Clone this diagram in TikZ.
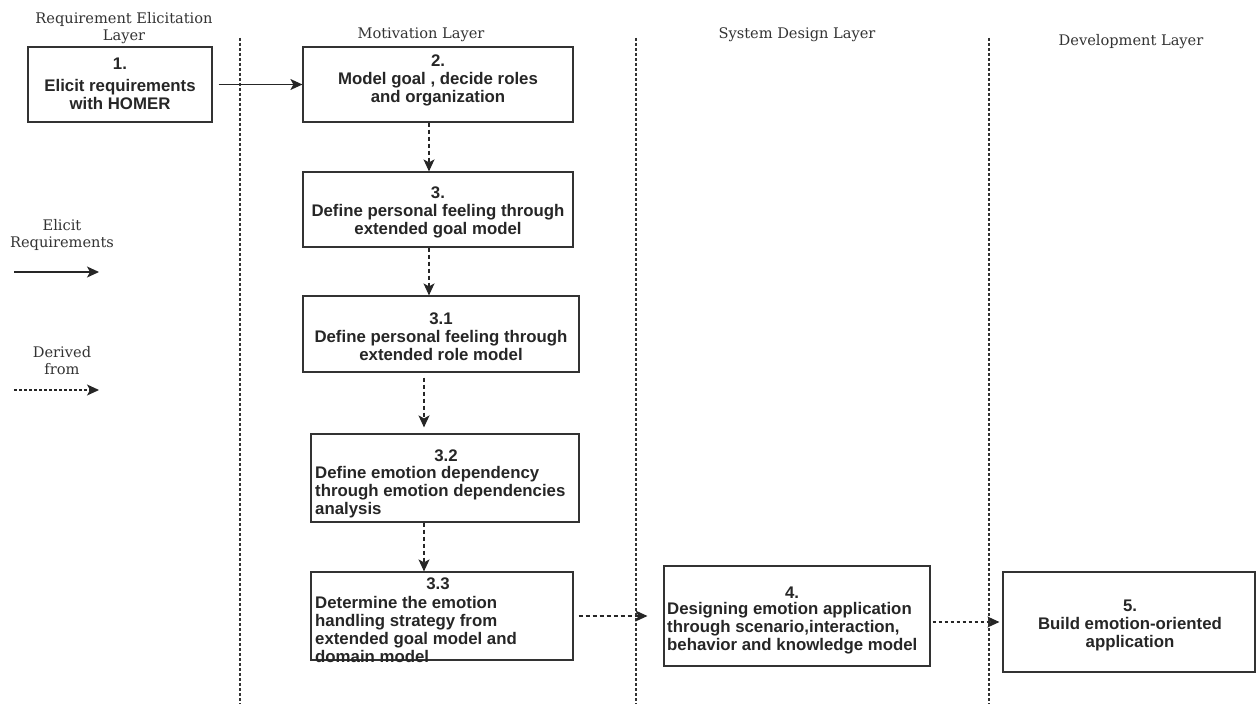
\documentclass[tikz,border=0pt]{standalone}
\usepackage{fontspec}
\setmainfont{Liberation Sans}
\newfontfamily\boxfont{Liberation Sans}
\newfontfamily\titlefont{DejaVu Serif}
\usetikzlibrary{arrows.meta,calc}
\begin{document}
\begin{tikzpicture}[x=1pt,y=-1pt,
  box/.style={draw=black!80, line width=1.2pt, inner sep=0pt},
  txt/.style={font=\boxfont\bfseries\fontsize{16.8}{18}\selectfont, text=black!85, align=center, inner sep=0pt},
  ltxt/.style={txt, align=left},
  ttl/.style={font=\titlefont\fontsize{14.6}{17}\selectfont, text=black!80, align=center, inner sep=0pt},
  sepline/.style={draw=black!80, line width=1.3pt, dash pattern=on 3pt off 2pt},
  req/.style={draw=black!85, line width=1.2pt, -{Stealth[length=12pt,width=11pt,inset=3pt]}},
  der/.style={req, dash pattern=on 4pt off 3pt},
  derfine/.style={req, dash pattern=on 3pt off 3pt}
]
\useasboundingbox[fill=white] (0,0) rectangle (1257,706);

% separators
\draw[sepline] (240,38) -- (240,704);
\draw[sepline] (636,38) -- (636,704);
\draw[sepline] (989,38) -- (989,704);

% titles
\node[ttl] (h1) at (124,28.5) {Requirement Elicitation\\Layer};
\node[ttl] (h2) at (421,35) {Motivation Layer};
\node[ttl] (h3) at (797,35) {System Design Layer};
\node[ttl] (h4) at (1131,42) {Development Layer};

% boxes
\node[box, minimum width=184pt, minimum height=75pt] (b1) at (120,84.5) {};
\node[box, minimum width=270pt, minimum height=75pt] (b2) at (438,84.5) {};
\node[box, minimum width=270pt, minimum height=75pt] (b3) at (438,209.5) {};
\node[box, minimum width=276pt, minimum height=76pt] (b31) at (441,334) {};
\node[box, minimum width=268pt, minimum height=88pt] (b32) at (445,478) {};
\node[box, minimum width=262pt, minimum height=88pt] (b33) at (442,616) {};
\node[box, minimum width=266pt, minimum height=100pt] (b4) at (797,616) {};
\node[box, minimum width=252pt, minimum height=100pt] (b5) at (1129,622) {};

% box texts
\node[txt] (t1) at (120,84) {1.\\[4pt]Elicit requirements\\with HOMER};
\node[txt] (t2) at (438,80.5) {2.\\Model goal , decide roles\\and organization};
\node[txt] (t3) at (438,212) {3.\\Define personal feeling through\\extended goal model};
\node[txt] (t31) at (441,337) {3.1\\Define personal feeling through\\extended role model};
\node[txt] (n32) at (446,456) {3.2};
\node[ltxt, anchor=west] (t32) at (315,492) {Define emotion dependency\\through emotion dependencies\\analysis};
\node[txt] (n33) at (438,584) {3.3};
\node[ltxt, anchor=west] (t33) at (315,629.5) {Determine the emotion\\handling strategy from\\extended goal model and\\domain model};
\node[txt] (n4) at (792,593) {4.};
\node[ltxt, anchor=west] (t4) at (667,628.5) {Designing emotion application\\through scenario,interaction,\\behavior and knowledge model};
\node[txt] (t5) at (1130,625) {5.\\Build emotion-oriented\\application};

% connectors
\draw[req] ([xshift=6pt]b1.east |- b2.west) -- (b2.west);
\draw[der] ([xshift=-9pt]b2.south) -- ([xshift=-9pt]b3.north);
\draw[der] ([xshift=-9pt]b3.south) -- ([xshift=-12pt]b31.north);
\draw[der] ([xshift=-17pt,yshift=-5pt]b31.south) -- ([xshift=-21pt,yshift=6pt]b32.north);
\draw[der] ([xshift=-21pt]b32.south) -- ([xshift=-18pt]b33.north);
\draw[der] ([xshift=5pt]b33.east) -- ([xshift=-16pt]b4.west);
\draw[derfine] ([xshift=2pt]b4.east |- b5.west) -- ([xshift=-3pt]b5.west);

% legend
\node[ttl] (l1) at (62,235) {Elicit\\Requirements};
\node[ttl] (l2) at (62,361) {Derived\\from};
\coordinate (la1) at (14,272);
\coordinate (la2) at (99,272);
\coordinate (lb1) at (14,390);
\coordinate (lb2) at (99,390);
\draw[req] (la1) -- (la2);
\draw[req, dash pattern=on 2.5pt off 2.5pt] (lb1) -- (lb2);
\end{tikzpicture}
\end{document}
